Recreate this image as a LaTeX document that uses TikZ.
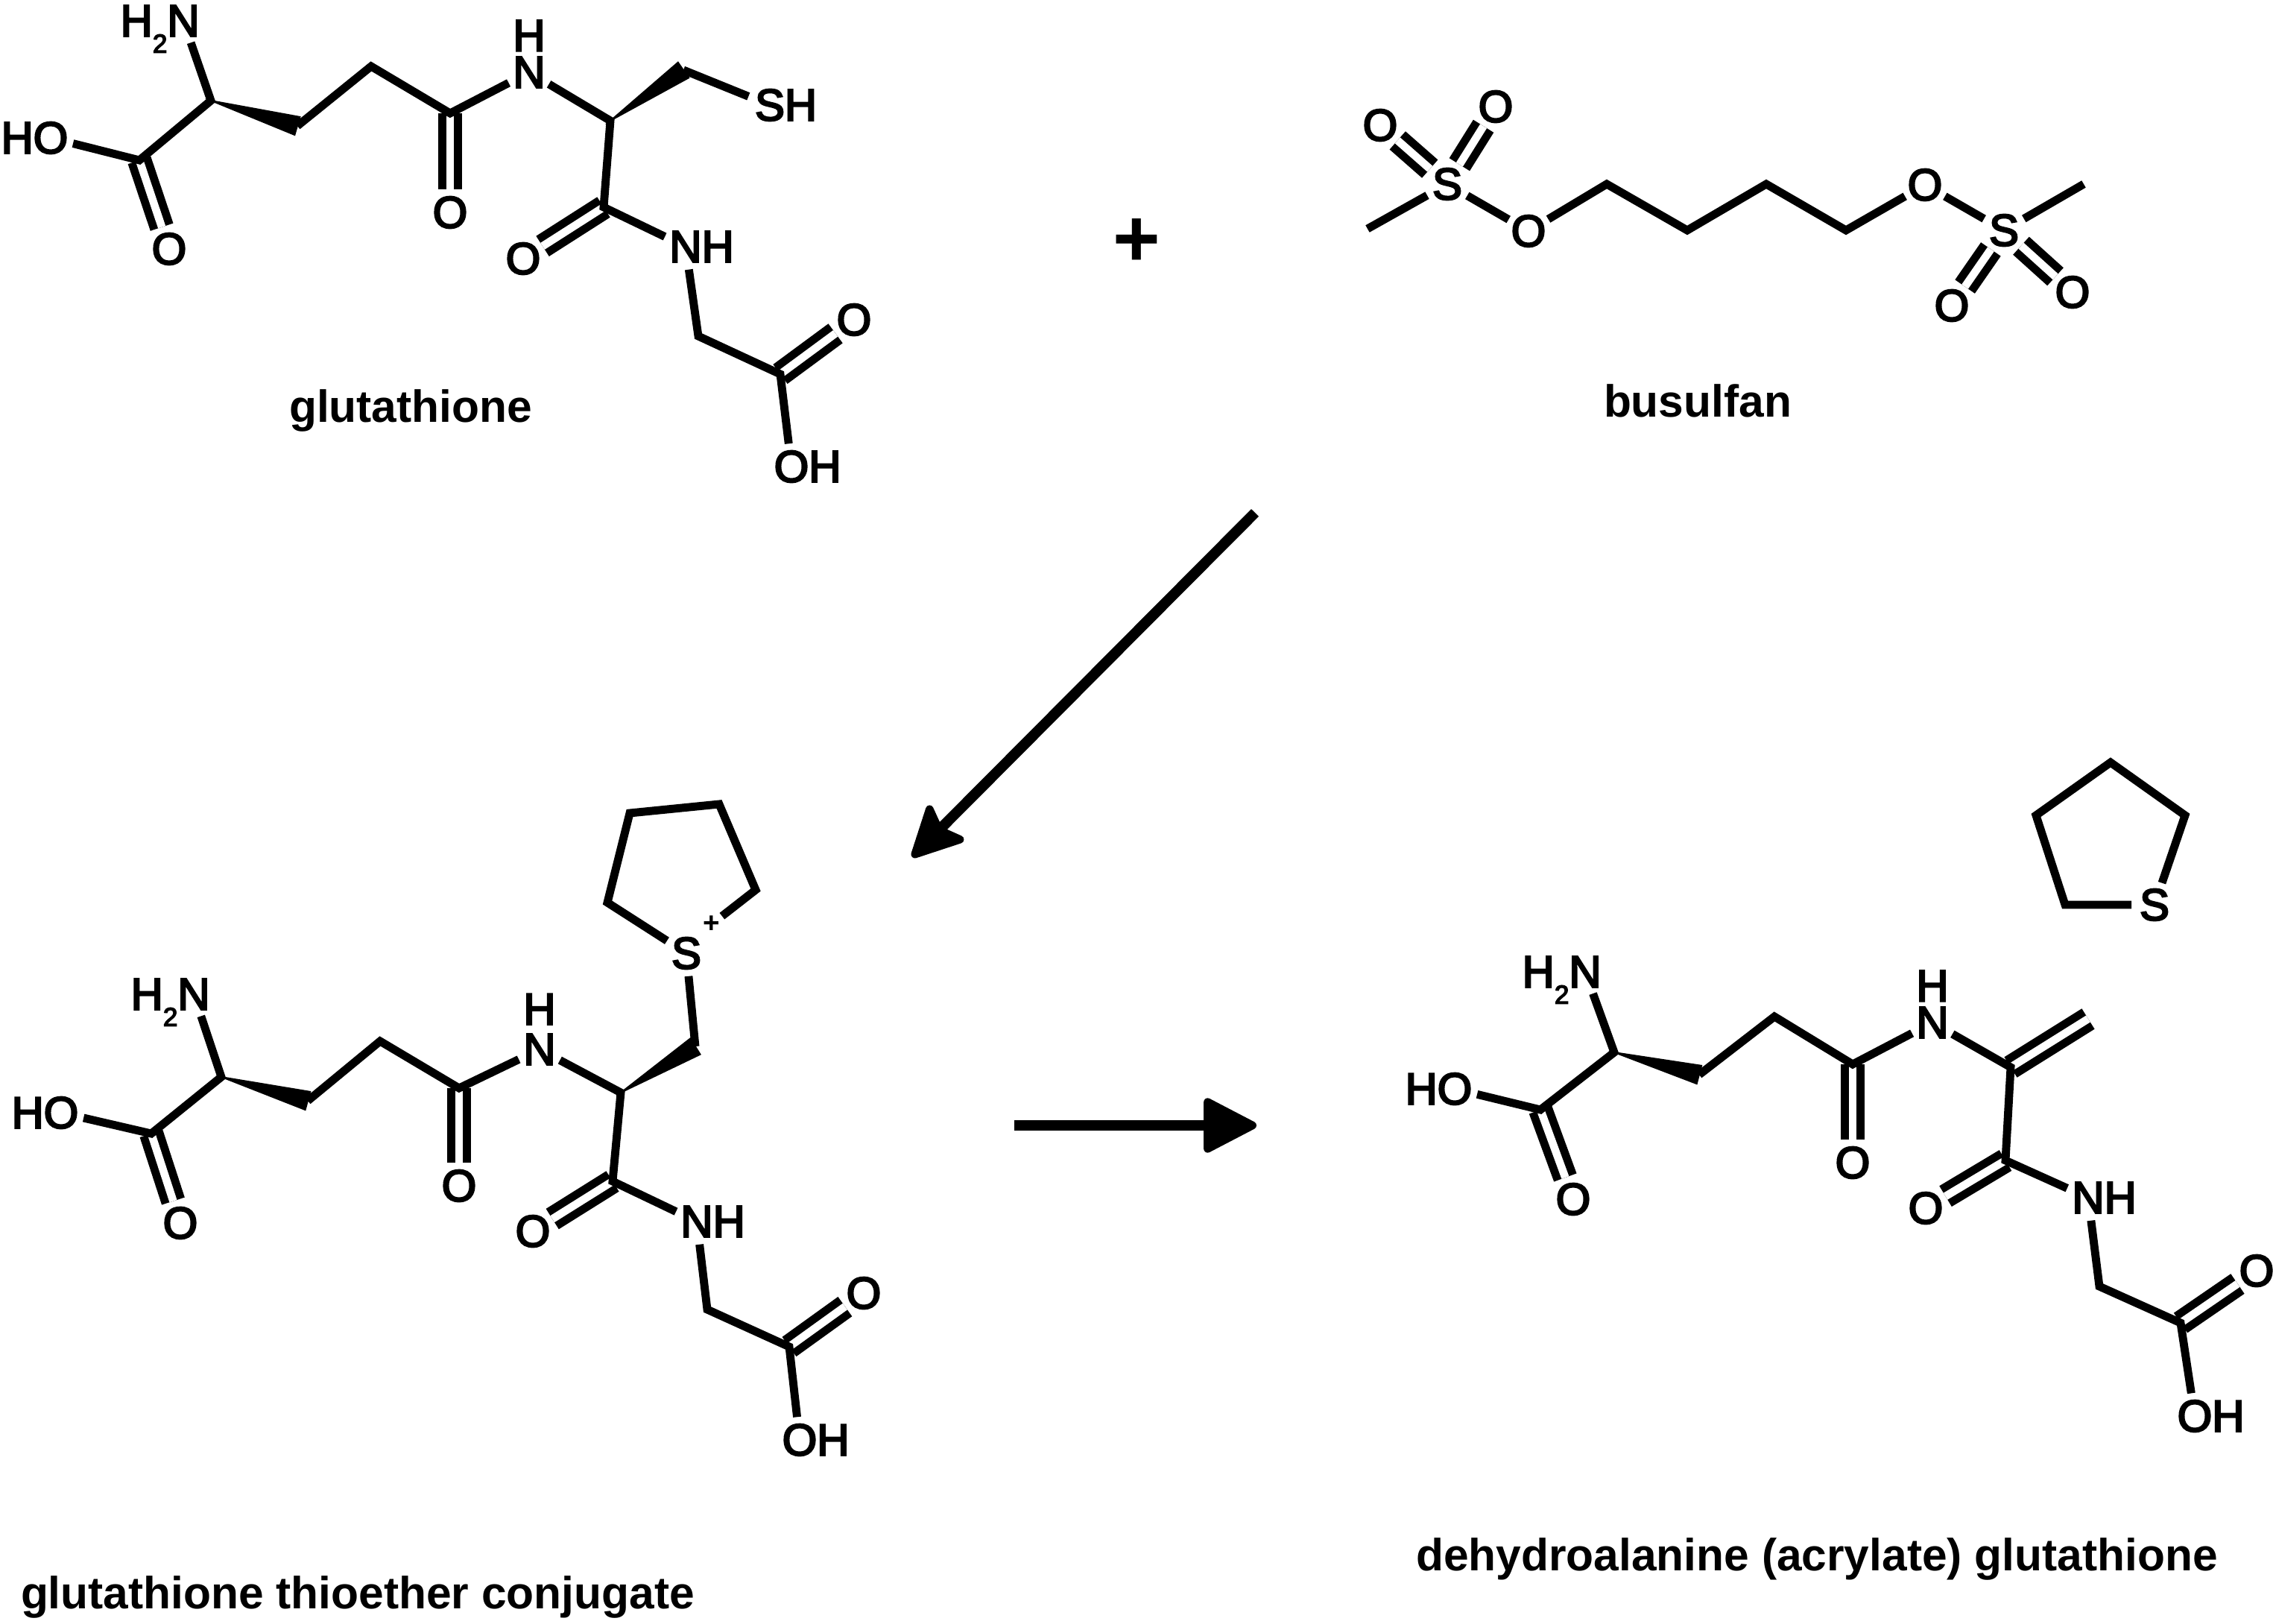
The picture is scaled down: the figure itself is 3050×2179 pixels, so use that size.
\documentclass[tikz,border=0pt]{standalone}
\usepackage{fontspec}
\setmainfont{Liberation Sans}
\newfontfamily\atomfont[FakeBold=4]{Liberation Sans}
\usetikzlibrary{calc,arrows.meta}
\newcommand\atm[3]{\makebox[0pt]{\smash{\llap{#1}}#2\smash{\rlap{#3}}}}
\newcommand\atmup[1]{\smash{\raisebox{#1}{\makebox[0pt]{H}}}\makebox[0pt]{N}}
\newcommand\twosub{\raisebox{-6.3pt}{\fontsize{10}{10}\selectfont 2}}
\newcommand\wedg[2]{\filldraw[line width=.5pt] ($(#2)!3.6pt!90:(#1)$) -- (#1) -- ($(#2)!3.6pt!-90:(#1)$) -- cycle;}
\tikzset{
  bond/.style={line width=3.1pt,line join=miter},
  dbl/.style={line width=3.1pt,double,double distance=3pt,line cap=butt},
  atom/.style={circle,inner sep=0pt,outer sep=0pt,minimum size=17.6pt,font=\atomfont\fontsize{17}{17}\selectfont},
  chg/.style={circle,inner sep=0pt,outer sep=0pt,minimum size=10pt,font=\bfseries\fontsize{11}{11}\selectfont},
  caplabel/.style={anchor=base,inner sep=0pt,font=\bfseries\fontsize{17.2}{17.2}\selectfont},
  plusmark/.style={inner sep=0pt,font=\bfseries\fontsize{31}{31}\selectfont},
  arr/.style={line width=4pt,line cap=butt}
}
\begin{document}
\begin{tikzpicture}[x=0.01cm,y=-0.01cm]
\useasboundingbox (0,0) rectangle (3050,2179);
% ---- glutathione
\coordinate (aCa) at (283,135);
\coordinate (aC1) at (187,215);
\coordinate (aW) at (399,169);
\coordinate (aCg) at (498,89);
\coordinate (aCo) at (604,152);
\coordinate (aCb) at (819,162);
\coordinate (aW2) at (917,94);
\coordinate (aC2) at (810,278);
\coordinate (aCH2) at (937,451);
\coordinate (aC3) at (1047,502);
\node[atom] (aN) at (246,28) {\atm{H\twosub}{N}{}};
\node[atom] (aOH) at (68,185) {\atm{H}{O}{}};
\node[atom] (aO1) at (227,334) {\atm{}{O}{}};
\node[atom] (aO2) at (604,285) {\atm{}{O}{}};
\node[atom] (aNH) at (710,97) {\atmup{14pt}};
\node[atom] (aS) at (1033,141) {\atm{}{S}{H}};
\node[atom] (aO3) at (702,347) {\atm{}{O}{}};
\node[atom] (aNH2) at (920,331) {\atm{}{N}{H}};
\node[atom] (aO4) at (1146,429) {\atm{}{O}{}};
\node[atom] (aOH2) at (1062,626) {\atm{}{O}{H}};
\draw[dbl] (aC1) -- (aO1);
\draw[dbl] (aCo) -- (aO2);
\draw[dbl] (aC2) -- (aO3);
\draw[dbl] (aC3) -- (aO4);
\draw[bond] (aN) -- (aCa) -- (aC1) -- (aOH);
\wedg{aCa}{aW}
\draw[bond] (aW) -- (aCg) -- (aCo) -- (aNH);
\draw[bond] (aNH) -- (aCb) -- (aC2) -- (aNH2);
\wedg{aCb}{aW2}
\draw[bond] (aW2) -- (aS);
\draw[bond] (aNH2) -- (aCH2) -- (aC3) -- (aOH2);
\node[caplabel] (aLabel) at (551,567) {glutathione};
% ---- busulfan
\coordinate (dM1) at (1835,307);
\coordinate (dC1) at (2156,247);
\coordinate (dC2) at (2264,309);
\coordinate (dC3) at (2370,247);
\coordinate (dC4) at (2477,309);
\coordinate (dM2) at (2796,247);
\node[atom] (dS1) at (1942,247) {\atm{}{S}{}};
\node[atom] (dO1) at (1852,168) {\atm{}{O}{}};
\node[atom] (dO2) at (2007,143) {\atm{}{O}{}};
\node[atom] (dO3) at (2051,310) {\atm{}{O}{}};
\node[atom] (dO4) at (2583,248) {\atm{}{O}{}};
\node[atom] (dS2) at (2689,309) {\atm{}{S}{}};
\node[atom] (dO5) at (2619,410) {\atm{}{O}{}};
\node[atom] (dO6) at (2781,392) {\atm{}{O}{}};
\draw[dbl] (dS1) -- (dO1);
\draw[dbl] (dS1) -- (dO2);
\draw[dbl] (dS2) -- (dO5);
\draw[dbl] (dS2) -- (dO6);
\draw[bond] (dM1) -- (dS1);
\draw[bond] (dS1) -- (dO3);
\draw[bond] (dO3) -- (dC1) -- (dC2) -- (dC3) -- (dC4) -- (dO4);
\draw[bond] (dO4) -- (dS2);
\draw[bond] (dS2) -- (dM2);
\node[caplabel] (dLabel) at (2278,560) {busulfan};
% ---- plus sign
\node[plusmark] (plusSign) at (1525,326) {+};
% ---- conjugate
\coordinate (bCa) at (297,1445);
\coordinate (bC1) at (203,1521);
\coordinate (bW) at (413,1477);
\coordinate (bCg) at (510,1397);
\coordinate (bCo) at (616,1460);
\coordinate (bCb) at (833,1466);
\coordinate (bW2) at (933,1404);
\coordinate (bC2) at (822,1585);
\coordinate (bCH2) at (949,1757);
\coordinate (bC3) at (1059,1807);
\coordinate (r1) at (815,1211);
\coordinate (r2) at (845,1091);
\coordinate (r3) at (965,1079);
\coordinate (r4) at (1014,1194);
\node[atom] (bN) at (260,1334) {\atm{H\twosub}{N}{}};
\node[atom] (bOH) at (82,1493) {\atm{H}{O}{}};
\node[atom] (bO1) at (242,1641) {\atm{}{O}{}};
\node[atom] (bO2) at (616,1591) {\atm{}{O}{}};
\node[atom] (bNH) at (724,1408) {\atmup{15.3pt}};
\node[atom] (bS) at (921,1279) {\atm{}{S}{}};
\node[chg] (bPlus) at (955,1240) {+};
\node[atom] (bO3) at (715,1652) {\atm{}{O}{}};
\node[atom] (bNH2) at (935,1639) {\atm{}{N}{H}};
\node[atom] (bO4) at (1159,1735) {\atm{}{O}{}};
\node[atom] (bOH2) at (1073,1932) {\atm{}{O}{H}};
\draw[dbl] (bC1) -- (bO1);
\draw[dbl] (bCo) -- (bO2);
\draw[dbl] (bC2) -- (bO3);
\draw[dbl] (bC3) -- (bO4);
\draw[bond] (bN) -- (bCa) -- (bC1) -- (bOH);
\wedg{bCa}{bW}
\draw[bond] (bW) -- (bCg) -- (bCo) -- (bNH);
\draw[bond] (bNH) -- (bCb) -- (bC2) -- (bNH2);
\wedg{bCb}{bW2}
\draw[bond] (bW2) -- (bS);
\draw[bond] (bS) -- (r1) -- (r2) -- (r3) -- (r4) -- (bPlus);
\draw[bond] (bNH2) -- (bCH2) -- (bC3) -- (bOH2);
\node[caplabel] (bLabel) at (480,2158) {glutathione thioether conjugate};
% ---- dehydroalanine
\coordinate (cCa) at (2166,1412);
\coordinate (cC1) at (2067,1489);
\coordinate (cW) at (2280,1442);
\coordinate (cCg) at (2381,1364);
\coordinate (cCo) at (2486,1428);
\coordinate (cCb) at (2698,1432);
\coordinate (cCH2t) at (2802,1367);
\coordinate (cC2) at (2691,1557);
\coordinate (cCH22) at (2817,1726);
\coordinate (cC3) at (2926,1775);
\coordinate (s1) at (2771,1214);
\coordinate (s2) at (2732,1094);
\coordinate (s3) at (2832,1023);
\coordinate (s4) at (2932,1094);
\node[atom] (cN) at (2127,1304) {\atm{H\twosub}{N}{}};
\node[atom] (cOH) at (1952,1461) {\atm{H}{O}{}};
\node[atom] (cO1) at (2111,1609) {\atm{}{O}{}};
\node[atom] (cO2) at (2486,1560) {\atm{}{O}{}};
\node[atom] (cNH) at (2593,1372) {\atmup{14pt}};
\node[atom] (cO3) at (2584,1621) {\atm{}{O}{}};
\node[atom] (cNH2) at (2802,1607) {\atm{}{N}{H}};
\node[atom] (cO4) at (3028,1705) {\atm{}{O}{}};
\node[atom] (cOH2) at (2945,1900) {\atm{}{O}{H}};
\node[atom] (sS) at (2891,1214) {\atm{}{S}{}};
\draw[dbl] (cC1) -- (cO1);
\draw[dbl] (cCo) -- (cO2);
\draw[dbl] (cCb) -- (cCH2t);
\draw[dbl] (cC2) -- (cO3);
\draw[dbl] (cC3) -- (cO4);
\draw[bond] (cN) -- (cCa) -- (cC1) -- (cOH);
\wedg{cCa}{cW}
\draw[bond] (cW) -- (cCg) -- (cCo) -- (cNH);
\draw[bond] (cNH) -- (cCb) -- (cC2) -- (cNH2);
\draw[bond] (cNH2) -- (cCH22) -- (cC3) -- (cOH2);
\draw[bond] (sS) -- (s1) -- (s2) -- (s3) -- (s4) -- (sS);
\node[caplabel] (cLabel) at (2438,2107) {dehydroalanine (acrylate) glutathione};
% ---- arrows
\coordinate (arrAstart) at (1684,688);
\coordinate (arrAend) at (1224,1150);
\coordinate (arrBstart) at (1361,1510);
\coordinate (arrBend) at (1686,1510);
\draw[arr,-{Stealth[round,length=22pt,width=22pt,inset=4pt,line width=3pt]}] (arrAstart) -- (arrAend);
\draw[arr,-{Triangle[round,length=22pt,width=22pt,line width=3pt]}] (arrBstart) -- (arrBend);
\end{tikzpicture}
\end{document}
